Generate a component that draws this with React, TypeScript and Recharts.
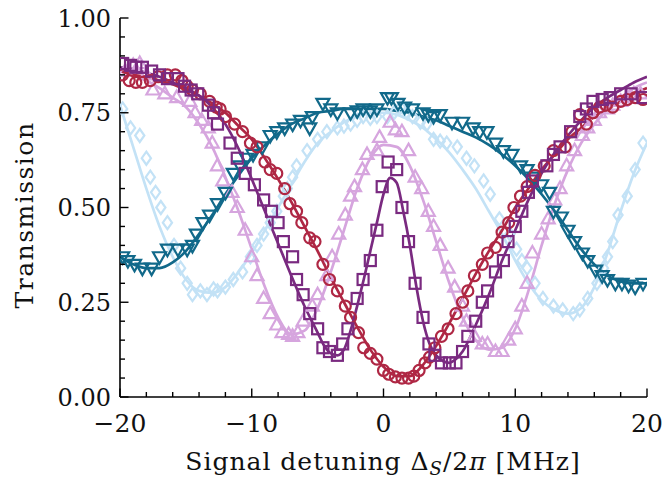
import React from "react";
import {
  ComposedChart,
  Line,
  Scatter,
  XAxis,
  YAxis,
} from "recharts";

// measured points [detuning MHz, transmission]
const redPoints: [number, number][] = [
  [-19.8, 0.85], [-19.3, 0.835], [-18.8, 0.83], [-18.3, 0.83], [-17.7, 0.835], [-17.1, 0.845],
  [-16.4, 0.85], [-15.8, 0.85], [-15.3, 0.835], [-14.9, 0.82], [-14.5, 0.81], [-13.9, 0.8],
  [-13.2, 0.78], [-12.7, 0.765], [-12.4, 0.76], [-12.0, 0.74], [-11.3, 0.72], [-10.7, 0.7],
  [-10.1, 0.67], [-9.6, 0.66], [-9.0, 0.62], [-8.6, 0.6], [-8.1, 0.59], [-7.5, 0.55],
  [-7.1, 0.51], [-6.6, 0.49], [-6.2, 0.46], [-5.6, 0.42], [-5.2, 0.41], [-4.6, 0.35],
  [-4.1, 0.31], [-3.5, 0.28], [-2.9, 0.24], [-2.5, 0.21], [-1.9, 0.17], [-1.5, 0.13],
  [-1.0, 0.115], [-0.5, 0.1], [0.0, 0.07], [0.4, 0.06], [0.9, 0.053], [1.4, 0.05],
  [1.9, 0.05], [2.3, 0.055], [2.7, 0.07], [3.15, 0.09], [3.5, 0.105], [3.9, 0.13],
  [4.4, 0.16], [4.9, 0.18], [5.5, 0.22], [6.0, 0.25], [6.4, 0.28], [6.9, 0.32],
  [7.5, 0.35], [7.9, 0.38], [8.5, 0.395], [9.0, 0.435], [9.5, 0.46], [9.9, 0.5],
  [10.4, 0.53], [10.9, 0.555], [11.5, 0.585], [12.2, 0.61], [12.9, 0.65], [13.8, 0.66],
  [14.3, 0.7], [14.9, 0.745], [15.4, 0.72], [15.9, 0.75], [16.4, 0.765], [16.9, 0.77],
  [17.4, 0.765], [18.0, 0.78], [18.5, 0.785], [19.1, 0.79], [19.7, 0.785],
];

const purplePoints: [number, number][] = [
  [-19.8, 0.88], [-19.2, 0.875], [-18.8, 0.87], [-18.3, 0.87], [-17.6, 0.86], [-17.0, 0.85],
  [-16.4, 0.84], [-15.6, 0.84], [-15.1, 0.82], [-14.6, 0.81], [-14.1, 0.8], [-13.3, 0.77],
  [-12.9, 0.75], [-12.6, 0.72], [-11.65, 0.67], [-11.1, 0.63], [-10.5, 0.59], [-9.8, 0.56],
  [-9.1, 0.52], [-8.5, 0.49], [-8.0, 0.46], [-7.6, 0.41], [-6.9, 0.37], [-6.6, 0.31],
  [-6.1, 0.27], [-5.6, 0.22], [-5.0, 0.18], [-4.6, 0.13], [-4.1, 0.12], [-3.5, 0.11],
  [-3.1, 0.14], [-2.7, 0.18], [-2.0, 0.26], [-1.55, 0.31], [-1.0, 0.36], [-0.5, 0.44],
  [-0.1, 0.555], [0.35, 0.62], [1.0, 0.6], [1.4, 0.5], [1.9, 0.41], [2.4, 0.3],
  [3.0, 0.21], [3.45, 0.14], [3.9, 0.11], [4.4, 0.09], [5.0, 0.09], [5.5, 0.09],
  [6.0, 0.12], [6.4, 0.16], [7.0, 0.2], [7.5, 0.25], [7.9, 0.28], [8.5, 0.33],
  [9.1, 0.36], [9.45, 0.41], [10.0, 0.45], [10.5, 0.49], [11.0, 0.54], [11.3, 0.57],
  [12.4, 0.61], [12.9, 0.64], [13.4, 0.66], [14.2, 0.7], [14.9, 0.74], [15.4, 0.76],
  [15.9, 0.78], [16.6, 0.785], [17.2, 0.79], [18.0, 0.8], [18.8, 0.8], [19.7, 0.79],
];

const lilacPoints: [number, number][] = [
  [-19.6, 0.86], [-19.0, 0.875], [-18.5, 0.88], [-18.0, 0.85], [-17.5, 0.81], [-16.6, 0.8],
  [-15.7, 0.79], [-14.7, 0.78], [-14.3, 0.75], [-13.8, 0.73], [-13.3, 0.71], [-13.0, 0.67],
  [-12.6, 0.61], [-12.2, 0.57], [-11.5, 0.54], [-11.1, 0.5], [-10.5, 0.44], [-10.0, 0.37],
  [-9.6, 0.32], [-9.1, 0.26], [-8.6, 0.22], [-8.1, 0.19], [-7.7, 0.17], [-7.2, 0.165],
  [-6.9, 0.16], [-6.5, 0.17], [-6.1, 0.2], [-5.4, 0.24], [-5.0, 0.27], [-4.3, 0.32],
  [-3.9, 0.37], [-3.4, 0.43], [-2.9, 0.48], [-2.5, 0.53], [-2.2, 0.555], [-1.6, 0.6],
  [-1.25, 0.64], [-0.5, 0.65], [-0.3, 0.685], [0.5, 0.725], [0.9, 0.705], [1.4, 0.7],
  [1.9, 0.65], [2.4, 0.58], [2.9, 0.55], [3.4, 0.49], [3.8, 0.45], [4.3, 0.4],
  [4.9, 0.34], [5.4, 0.29], [6.0, 0.24], [6.3, 0.2], [6.9, 0.16], [7.5, 0.14],
  [7.9, 0.14], [8.5, 0.12], [9.0, 0.12], [9.5, 0.15], [10.0, 0.18], [10.5, 0.24],
  [10.9, 0.3], [11.3, 0.38], [12.0, 0.43], [12.5, 0.47], [13.0, 0.52], [13.4, 0.55],
  [13.9, 0.61], [14.5, 0.65], [15.1, 0.69], [15.5, 0.71], [16.0, 0.73], [16.4, 0.75],
  [17.0, 0.76], [17.4, 0.77], [18.0, 0.78], [18.5, 0.79], [19.0, 0.8], [19.5, 0.8],
];

const bluePoints: [number, number][] = [
  [-19.8, 0.76], [-19.2, 0.71], [-18.5, 0.69], [-18.0, 0.63], [-17.7, 0.58], [-17.3, 0.54],
  [-16.9, 0.5], [-16.4, 0.46], [-15.9, 0.4], [-15.4, 0.34], [-14.9, 0.3], [-14.5, 0.27],
  [-13.9, 0.28], [-13.4, 0.27], [-12.9, 0.285], [-12.6, 0.28], [-12.0, 0.29], [-11.4, 0.31],
  [-10.7, 0.33], [-10.1, 0.37], [-9.6, 0.4], [-9.1, 0.43], [-8.6, 0.46], [-8.1, 0.49],
  [-7.6, 0.53], [-7.3, 0.55], [-6.9, 0.58], [-6.6, 0.61], [-5.8, 0.65], [-5.0, 0.68],
  [-4.3, 0.7], [-3.5, 0.71], [-3.0, 0.715], [-2.5, 0.72], [-2.0, 0.73], [-1.55, 0.74],
  [-1.0, 0.735], [-0.5, 0.74], [0.3, 0.74], [0.8, 0.75], [1.3, 0.765], [1.8, 0.75],
  [2.2, 0.74], [2.8, 0.725], [3.3, 0.72], [3.8, 0.68], [4.3, 0.675], [4.8, 0.67],
  [5.6, 0.66], [6.3, 0.63], [6.9, 0.61], [7.6, 0.57], [8.1, 0.535], [8.8, 0.47],
  [9.6, 0.43], [10.1, 0.39], [10.5, 0.36], [10.9, 0.34], [11.5, 0.3], [12.1, 0.26],
  [12.9, 0.24], [13.6, 0.23], [14.4, 0.22], [14.9, 0.23], [15.5, 0.26], [16.2, 0.3],
  [16.7, 0.34], [17.0, 0.37], [17.4, 0.41], [17.8, 0.48], [18.5, 0.53], [19.1, 0.6],
  [19.7, 0.67],
];

const tealPoints: [number, number][] = [
  [-19.8, 0.37], [-19.4, 0.36], [-18.9, 0.35], [-18.3, 0.34], [-17.6, 0.34], [-17.0, 0.37],
  [-16.4, 0.39], [-15.6, 0.39], [-14.9, 0.39], [-14.5, 0.4], [-14.2, 0.43], [-13.7, 0.46],
  [-13.2, 0.48], [-12.6, 0.51], [-12.0, 0.54], [-11.4, 0.59], [-10.9, 0.61], [-10.4, 0.63],
  [-9.9, 0.64], [-9.2, 0.66], [-8.6, 0.69], [-8.1, 0.7], [-7.5, 0.71], [-6.9, 0.72],
  [-6.3, 0.73], [-5.6, 0.71], [-5.4, 0.74], [-4.6, 0.775], [-4.0, 0.76], [-3.5, 0.75],
  [-2.5, 0.75], [-2.0, 0.755], [-1.55, 0.76], [-1.0, 0.755], [-0.5, 0.76], [0.3, 0.79],
  [0.6, 0.79], [1.1, 0.775], [1.6, 0.765], [2.2, 0.76], [3.0, 0.75], [3.4, 0.745],
  [3.8, 0.74], [4.3, 0.745], [5.2, 0.725], [6.0, 0.725], [6.8, 0.71], [7.3, 0.7],
  [7.85, 0.7], [8.5, 0.67], [9.1, 0.65], [9.75, 0.64], [10.4, 0.61], [10.9, 0.6],
  [11.4, 0.58], [12.0, 0.56], [12.6, 0.54], [12.9, 0.49], [13.5, 0.475], [14.0, 0.44],
  [14.5, 0.41], [15.1, 0.38], [15.5, 0.36], [16.1, 0.335], [16.6, 0.32], [17.0, 0.31],
  [17.6, 0.3], [18.1, 0.3], [18.6, 0.295], [19.1, 0.29], [19.7, 0.3],
];

// fitted curves, sampled off the figure
const fitX = [
  -20, -19, -18, -17, -16, -15, -14, -13, -12, -11, -10, -9, -8, -7, -6, -5, -4, -3, -2, -1,
  0, 1, 2, 3, 4, 5, 6, 7, 8, 9, 10, 11, 12, 13, 14, 15, 16, 17, 18, 19, 20,
];
const redFit = [
  0.86, 0.85, 0.845, 0.835, 0.825, 0.81, 0.795, 0.775, 0.75, 0.715, 0.68, 0.63, 0.575, 0.515,
  0.45, 0.385, 0.315, 0.25, 0.185, 0.125, 0.08, 0.055, 0.055, 0.085, 0.135, 0.195, 0.26, 0.325,
  0.385, 0.44, 0.5, 0.55, 0.6, 0.64, 0.68, 0.71, 0.74, 0.76, 0.78, 0.8, 0.815,
];
const lilacFit = [
  0.86, 0.85, 0.835, 0.815, 0.79, 0.765, 0.72, 0.66, 0.58, 0.49, 0.39, 0.29, 0.21, 0.165,
  0.175, 0.235, 0.33, 0.44, 0.55, 0.63, 0.665, 0.66, 0.61, 0.52, 0.41, 0.3, 0.21, 0.15,
  0.125, 0.13, 0.18, 0.28, 0.4, 0.51, 0.6, 0.67, 0.72, 0.76, 0.79, 0.815, 0.83,
];
const blueFit = [
  0.77, 0.66, 0.55, 0.45, 0.37, 0.31, 0.28, 0.275, 0.29, 0.33, 0.38, 0.44, 0.5, 0.56,
  0.62, 0.67, 0.7, 0.725, 0.74, 0.75, 0.75, 0.745, 0.73, 0.71, 0.68, 0.645, 0.6, 0.55,
  0.49, 0.43, 0.36, 0.3, 0.255, 0.23, 0.22, 0.235, 0.29, 0.38, 0.49, 0.59, 0.67,
];
const tealFit = [
  0.37, 0.35, 0.34, 0.34, 0.355, 0.385, 0.43, 0.48, 0.535, 0.585, 0.63, 0.665, 0.695, 0.72,
  0.735, 0.75, 0.755, 0.76, 0.76, 0.76, 0.76, 0.755, 0.75, 0.74, 0.73, 0.715, 0.7, 0.685,
  0.665, 0.64, 0.61, 0.575, 0.535, 0.49, 0.44, 0.39, 0.35, 0.32, 0.305, 0.3, 0.3,
];
// purple fit has a narrow peak, so it gets a finer grid in the middle
const purpleFitX = [
  -20, -19, -18, -17, -16, -15, -14, -13, -12, -11, -10, -9, -8, -7, -6, -5, -4.5, -4, -3.5,
  -3, -2.5, -2, -1.5, -1, -0.5, 0, 0.5, 1, 1.5, 2, 2.5, 3, 3.5, 4, 4.5, 5, 5.5, 6, 7, 8, 9,
  10, 11, 12, 13, 14, 15, 16, 17, 18, 19, 20,
];
const purpleFit = [
  0.87, 0.865, 0.855, 0.845, 0.83, 0.815, 0.795, 0.765, 0.72, 0.655, 0.575, 0.49, 0.405, 0.32,
  0.24, 0.17, 0.135, 0.115, 0.11, 0.125, 0.175, 0.24, 0.31, 0.385, 0.46, 0.535, 0.578, 0.565,
  0.49, 0.4, 0.29, 0.2, 0.14, 0.11, 0.095, 0.09, 0.1, 0.12, 0.19, 0.27, 0.36, 0.44, 0.52,
  0.59, 0.645, 0.69, 0.73, 0.765, 0.79, 0.81, 0.83, 0.845,
];

const xTicks = [-20, -18, -16, -14, -12, -10, -8, -6, -4, -2, 0, 2, 4, 6, 8, 10, 12, 14, 16, 18, 20];
const yTicks = [
  0, 0.05, 0.1, 0.15, 0.2, 0.25, 0.3, 0.35, 0.4, 0.45, 0.5, 0.55, 0.6, 0.65, 0.7, 0.75, 0.8,
  0.85, 0.9, 0.95, 1,
];

const RED = "#AF2744";
const PURPLE = "#7A2A80";
const LILAC = "#D6A5DE";
const BLUE = "#C3E2F6";
const TEAL = "#11698A";

const FONT = "'DejaVu Serif', serif";

const toRows = (pts: [number, number][]) => pts.map(([x, y]) => ({ x, y }));
const fitRows = (xs: number[], ys: number[]) => xs.map((x, i) => ({ x, y: ys[i] }));

type Kind = "circle" | "square" | "up" | "down" | "diamond";

function marker(kind: Kind, color: string) {
  return (p: any) => {
    const { cx, cy } = p;
    if (cx == null || cy == null) return <g />;
    const common = { fill: "none", stroke: color, strokeWidth: 2.2 };
    if (kind === "circle") return <circle cx={cx} cy={cy} r={5.5} {...common} />;
    if (kind === "square")
      return <rect x={cx - 5.5} y={cy - 5.5} width={11} height={11} {...common} />;
    if (kind === "up")
      return (
        <polygon points={`${cx},${cy - 7} ${cx + 6.5},${cy + 4.5} ${cx - 6.5},${cy + 4.5}`} {...common} />
      );
    if (kind === "down")
      return (
        <polygon points={`${cx},${cy + 7} ${cx + 6.5},${cy - 4.5} ${cx - 6.5},${cy - 4.5}`} {...common} />
      );
    return (
      <polygon
        points={`${cx},${cy - 6.5} ${cx + 4.6},${cy} ${cx},${cy + 6.5} ${cx - 4.6},${cy}`}
        {...common}
      />
    );
  };
}

const isMajorX = (v: number) => Math.abs(v % 10) < 1e-6;
const isMajorY = (v: number) => Math.abs(v * 4 - Math.round(v * 4)) < 1e-6;

function XTick(props: any) {
  const { x, y, payload, side } = props;
  const v = payload.value;
  const major = isMajorX(v);
  const len = major ? 8.5 : 5;
  const dir = side === "bottom" ? -1 : 1;
  return (
    <g>
      <line x1={x} y1={y} x2={x} y2={y + dir * len} stroke="#000" strokeWidth={1.4} />
      {side === "bottom" && major && (
        <text x={x} y={y + 35} textAnchor="middle" fontFamily={FONT} fontSize={25} fill="#111">
          {v < 0 ? `\u2212${Math.abs(v)}` : `${v}`}
        </text>
      )}
    </g>
  );
}

function YTick(props: any) {
  const { x, y, payload, side } = props;
  const v = payload.value;
  const major = isMajorY(v);
  const len = major ? 8.5 : 5;
  const dir = side === "left" ? 1 : -1;
  return (
    <g>
      <line x1={x} y1={y} x2={x + dir * len} y2={y} stroke="#000" strokeWidth={1.4} />
      {side === "left" && major && (
        <text x={x - 9} y={y + 8.5} textAnchor="end" fontFamily={FONT} fontSize={24} fill="#111">
          {v.toFixed(2)}
        </text>
      )}
    </g>
  );
}

export default function App() {
  const axisLine = { stroke: "#000", strokeWidth: 1.6 };
  return (
    <div style={{ position: "absolute", left: 0, top: 0, width: 662, height: 481, background: "#fff" }}>
      <ComposedChart width={662} height={481} margin={{ top: 18, right: 15, bottom: 0, left: 0 }}>
        <XAxis
          dataKey="x"
          type="number"
          domain={[-20, 20]}
          ticks={xTicks}
          interval={0}
          allowDataOverflow
          height={84}
          tickSize={0}
          tickMargin={0}
          tickLine={false}
          axisLine={axisLine}
          tick={<XTick side="bottom" />}
        />
        <XAxis
          xAxisId="top"
          orientation="top"
          dataKey="x"
          type="number"
          domain={[-20, 20]}
          ticks={xTicks}
          interval={0}
          allowDataOverflow
          height={0}
          tickSize={0}
          tickMargin={0}
          tickLine={false}
          axisLine={axisLine}
          tick={<XTick side="top" />}
        />
        <YAxis
          dataKey="y"
          type="number"
          domain={[0, 1]}
          ticks={yTicks}
          interval={0}
          allowDataOverflow
          width={120}
          tickSize={0}
          tickMargin={0}
          tickLine={false}
          axisLine={axisLine}
          tick={<YTick side="left" />}
        />
        <YAxis
          yAxisId="right"
          orientation="right"
          dataKey="y"
          type="number"
          domain={[0, 1]}
          ticks={yTicks}
          interval={0}
          allowDataOverflow
          width={0}
          tickSize={0}
          tickMargin={0}
          tickLine={false}
          axisLine={axisLine}
          tick={<YTick side="right" />}
        />

        <Line data={fitRows(fitX, blueFit)} dataKey="y" type="monotone" stroke={BLUE} strokeWidth={2.7} dot={false} isAnimationActive={false} />
        <Scatter data={toRows(bluePoints)} dataKey="y" shape={marker("diamond", BLUE)} isAnimationActive={false} />

        <Line data={fitRows(fitX, lilacFit)} dataKey="y" type="monotone" stroke={LILAC} strokeWidth={2.7} dot={false} isAnimationActive={false} />
        <Scatter data={toRows(lilacPoints)} dataKey="y" shape={marker("up", LILAC)} isAnimationActive={false} />

        <Line data={fitRows(fitX, tealFit)} dataKey="y" type="monotone" stroke={TEAL} strokeWidth={2.7} dot={false} isAnimationActive={false} />
        <Scatter data={toRows(tealPoints)} dataKey="y" shape={marker("down", TEAL)} isAnimationActive={false} />

        <Line data={fitRows(fitX, redFit)} dataKey="y" type="monotone" stroke={RED} strokeWidth={2.7} dot={false} isAnimationActive={false} />
        <Scatter data={toRows(redPoints)} dataKey="y" shape={marker("circle", RED)} isAnimationActive={false} />

        <Line data={fitRows(purpleFitX, purpleFit)} dataKey="y" type="monotone" stroke={PURPLE} strokeWidth={2.7} dot={false} isAnimationActive={false} />
        <Scatter data={toRows(purplePoints)} dataKey="y" shape={marker("square", PURPLE)} isAnimationActive={false} />
      </ComposedChart>

      <svg
        width={662}
        height={481}
        style={{ position: "absolute", left: 0, top: 0, pointerEvents: "none" }}
      >
        <text
          x={383}
          y={470}
          textAnchor="middle"
          fontFamily={FONT}
          fontSize={25}
          letterSpacing={1}
          fill="#111"
        >
          Signal detuning Δ
          <tspan fontStyle="italic" fontSize={18} dy={5}>S</tspan>
          <tspan dy={-5}>/2</tspan>
          <tspan fontStyle="italic">π</tspan>
          <tspan> [MHz]</tspan>
        </text>
        <text
          x={0}
          y={0}
          transform="translate(33,215) rotate(-90)"
          textAnchor="middle"
          fontFamily={FONT}
          fontSize={25}
          letterSpacing={1.5}
          fill="#111"
        >
          Transmission
        </text>
      </svg>
    </div>
  );
}
